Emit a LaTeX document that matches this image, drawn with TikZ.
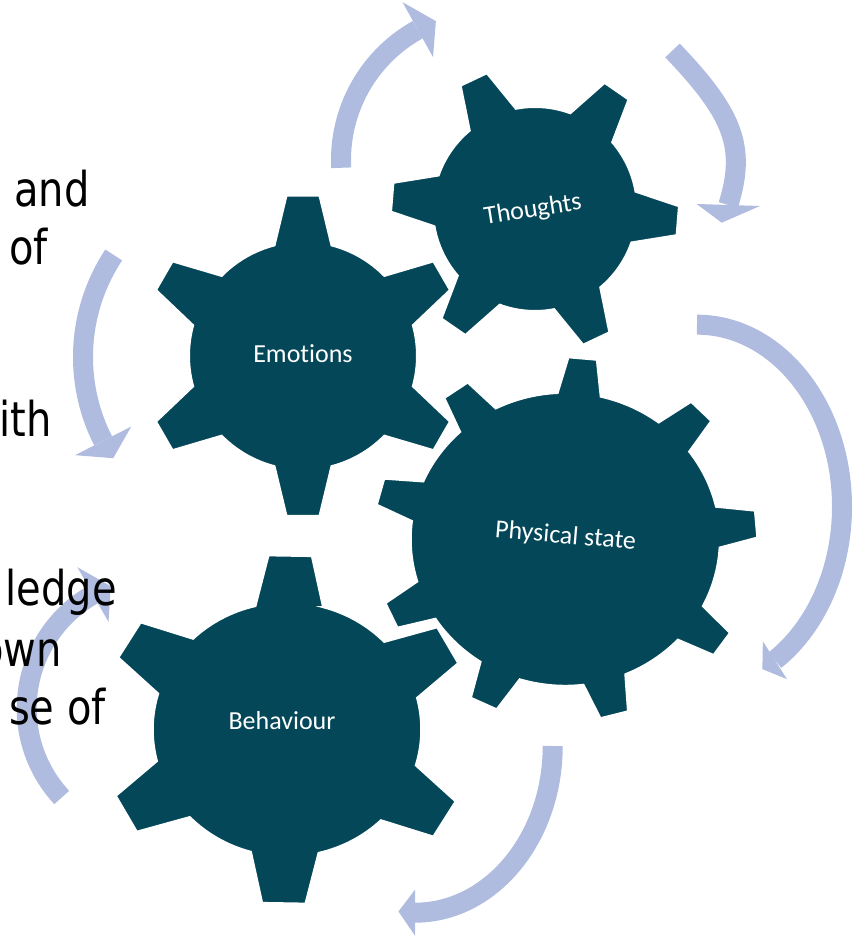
\documentclass[tikz,border=0pt]{standalone}
\usepackage{fontspec}
\setmainfont{Carlito}[Ligatures=NoCommon]
\newfontfamily\handfont{DejaVu Sans}
\definecolor{gearteal}{RGB}{3,71,89}
\definecolor{cycleblue}{RGB}{175,188,224}

\tikzset{
  gearbody/.style={fill=gearteal, draw=white, line width=1.5pt, line join=miter},
  gearlabel/.style={text=white, font=\fontsize{19.5}{23}\selectfont, anchor=base, inner sep=0pt},
  sidetext/.style={anchor=base east, inner sep=0pt, font=\handfont\fontsize{30}{36}\selectfont},
  shaft/.style={draw=cycleblue, line width=15pt},
  arrowhead/.style={fill=cycleblue},
}

% gear: centre x, centre y, x-stretch, body radius, tip radius,
%       half width at base, half width at tip, teeth, angle of first tooth
\newcommand\drawgear[9]{%
  \pgfmathsetmacro\gphi{asin(#6/#4)}%
  \pgfmathsetmacro\gpsi{asin(#7/#5)}%
  \pgfmathsetmacro\gstep{360/#8}%
  \pgfmathtruncatemacro\glast{#8-1}%
  \begin{scope}[shift={(#1,#2)}, xscale=#3]
    \path[gearbody] ({#9-\gphi}:#4)
      \foreach \k in {0,...,\glast}{
        -- ({#9+\k*\gstep-\gpsi}:#5) -- ({#9+\k*\gstep+\gpsi}:#5)
        -- ({#9+\k*\gstep+\gphi}:#4)
        arc[start angle={#9+\k*\gstep+\gphi}, end angle={#9+(\k+1)*\gstep-\gphi}, radius=#4]
      } -- cycle;
  \end{scope}}

% curved arrow on an ellipse: centre x, centre y, x radius, y radius,
%   tail angle, angle of the head's back, half width of the head, tip angle
\newcommand\ringarrow[8]{%
  \draw[shaft] ({#1+#3*cos(#5)},{#2+#4*sin(#5)})
     arc[x radius=#3, y radius=#4, start angle=#5, end angle=#6];
  \fill[arrowhead] ({#1+(#3+#7)*cos(#6)},{#2+(#4+#7)*sin(#6)})
     -- ({#1+#3*cos(#8)},{#2+#4*sin(#8)})
     -- ({#1+(#3-#7)*cos(#6)},{#2+(#4-#7)*sin(#6)}) -- cycle;}

\begin{document}
\begin{tikzpicture}[x=0.75pt, y=0.75pt]
\useasboundingbox (0,0) rectangle (852,937);
\begin{scope}
\clip (0,0) rectangle (852,937);

% cycle arrows
\ringarrow{490}{777}{149}{149}{183}{119}{31.5}{111.3}
\draw[shaft] (672.5,886.5) .. controls (734.6,821.7) and (746,789) .. (728.3,732);
\fill[arrowhead] (696.7,733) -- (721.7,714.3) -- (760,731) -- cycle;
\ringarrow{267.8}{580}{184.8}{184.8}{146.5}{207}{31.5}{213.2}
\ringarrow{157.6}{228.6}{130.9}{130.9}{222.9}{119.6}{31.5}{111}
\ringarrow{697}{430.3}{145}{182}{90}{-57.5}{22.5}{-63.2}
\ringarrow{415}{191}{137.7}{166.7}{0}{-90}{23}{-96.9}

% text running in from the left edge
\node[sidetext] (l-and)   at (90,730)  {\scalebox{1}[1.2]{and}};
\node[sidetext] (l-of)    at (48,672)  {\scalebox{1}[1.2]{of}};
\node[sidetext] (l-ith)   at (52,500)  {\scalebox{1}[1.2]{ith}};
\node[sidetext] (l-ledge) at (117,331) {\scalebox{1}[1.2]{ledge}};
\node[sidetext] (l-own)   at (62,270)  {\scalebox{1}[1.2]{own}};
\node[sidetext] (l-seof)  at (106,212) {\scalebox{1}[1.2]{se of}};

% gears
\drawgear{535}{728}{1}{102}{144}{25.5}{14.5}{6}{-4.7}
\drawgear{303}{581.2}{1}{114}{161}{28.5}{16.5}{6}{90}
\drawgear{565.3}{397.7}{1.055}{146.5}{182}{20.5}{13.5}{9}{84.8}
\drawgear{287}{207.5}{1.057}{127}{175}{32}{20.5}{6}{89}

\node[gearlabel, rotate=9]    (thoughts)  at (534,720)   {Thoughts};
\node[gearlabel]              (emotions)  at (303,574.3) {Emotions};
\node[gearlabel, rotate=-4.7] (physical)  at (565,393.5) {Physical state};
\node[gearlabel]              (behaviour) at (282,207)   {Behaviour};
\end{scope}
\end{tikzpicture}
\end{document}
